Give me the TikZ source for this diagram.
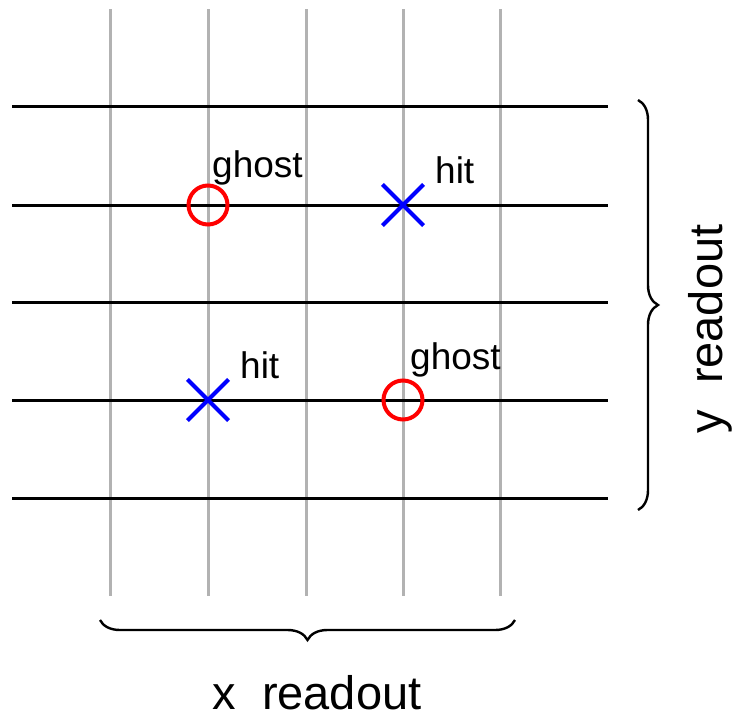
\documentclass[tikz,border=0pt]{standalone}
\usepackage{fontspec}
\setmainfont{Liberation Sans}
\usetikzlibrary{decorations.pathreplacing,shapes.misc}
\begin{document}
\begin{tikzpicture}
[x=1pt,y=-1pt,
  wiredecorate/.style={line width=3pt,black!30!white},%
  stripdecorate/.style={line width=3pt,black},%
  ghostmark/.style={shape=circle,draw=red,line width=4pt,minimum size=39pt,inner sep=0pt},%
  hitmark/.style={shape=cross out,draw=blue,line width=4.2pt,minimum size=37pt,inner sep=0pt},%
  marklabel/.style={anchor=base west,inner sep=0pt,font=\fontsize{37}{44}\selectfont},%
  bracedecorate/.style={decorate,decoration={brace,amplitude=20pt},line width=2.4pt},%
  readlabel/.style={anchor=base,inner sep=0pt,font=\fontsize{47}{56}\selectfont}]
\useasboundingbox (0,0) rectangle (734,720);
%% wires (x) and strips (y)
\foreach \colname/\x in {c1/110, c2/208, c3/306, c4/403, c5/500} {
  \coordinate (\colname top) at (\x,9);
  \coordinate (\colname bot) at (\x,596);
  \draw[wiredecorate] (\colname top) -- (\colname bot);
}
\foreach \rowname/\y in {r1/106, r2/205, r3/302, r4/400, r5/498} {
  \coordinate (\rowname left) at (12,\y);
  \coordinate (\rowname right) at (608,\y);
  \draw[stripdecorate] (\rowname left) -- (\rowname right);
}
%% hits and ghosts
\node (ghostA) at (208,205) [ghostmark] {};
\node (hitA) at (403,205) [hitmark] {};
\node (hitB) at (208,400) [hitmark] {};
\node (ghostB) at (403,400) [ghostmark] {};
\node (ghostAlabel) at (212,177) [marklabel] {ghost};
\node (hitAlabel) at (435,183) [marklabel] {hit};
\node (hitBlabel) at (240,378) [marklabel] {hit};
\node (ghostBlabel) at (410,369) [marklabel] {ghost};
%% readout braces
\coordinate (ybracetop) at (638,100);
\coordinate (ybracebot) at (638,510);
\coordinate (xbraceright) at (515,620);
\coordinate (xbraceleft) at (100,620);
\draw[bracedecorate] (ybracetop) -- (ybracebot);
\draw[bracedecorate] (xbraceright) -- (xbraceleft);
\node (yreadout) at (722,329) [readlabel,rotate=90] {y~~readout};
\node (xreadout) at (317,709) [readlabel] {x~~readout};
\end{tikzpicture}
\end{document}
